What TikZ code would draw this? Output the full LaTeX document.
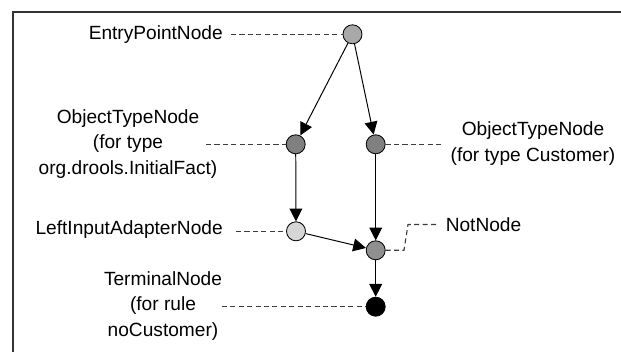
\documentclass[tikz,border=0pt]{standalone}
\usepackage{fontspec}
\setmainfont{Liberation Sans}
\usetikzlibrary{arrows.meta}
\definecolor{reteframe}{HTML}{333333}
\definecolor{reteleader}{HTML}{3C3C3C}
\definecolor{entrygray}{HTML}{A8A8A8}
\definecolor{typegray}{HTML}{808080}
\definecolor{adaptgray}{HTML}{D6D6D6}
\definecolor{notgray}{HTML}{8F8F8F}

\tikzset{
  retenode/.style={circle, draw=black, line width=0.6pt, minimum size=0.475cm, inner sep=0pt},
  flow/.style={-{Triangle[length=0.32cm, width=0.32cm]}, line width=0.7pt},
  leader/.style={reteleader, line width=0.8pt, dash pattern=on 3.6pt off 2.4pt},
  lbl/.style={font=\fontsize{13.6}{18.4}\selectfont, inner sep=0pt, align=center},
}

\begin{document}
\begin{tikzpicture}[x=0.025cm, y=-0.025cm]
  \useasboundingbox (0,0) rectangle (621,352);
  \draw[reteframe, line width=0.9pt] (621,12) -- (13,12) -- (13,352);

  % rete nodes
  \node[retenode, fill=entrygray] (entry)   at (352.5,34.3)  {};
  \node[retenode, fill=typegray]  (otleft)  at (295.7,144.3) {};
  \node[retenode, fill=typegray]  (otright) at (375.7,144.3) {};
  \node[retenode, fill=adaptgray] (lia)     at (296,231.3)   {};
  \node[retenode, fill=notgray]   (notn)    at (375.7,250.3) {};
  \node[retenode, fill=black]     (term)    at (375.7,306.7) {};

  % labels
  \node[lbl, anchor=east] (entrylbl)   at (223,34.3)  {EntryPointNode};
  \node[lbl]              (otleftlbl)  at (128,144)   {ObjectTypeNode\\(for type\\org.drools.InitialFact)};
  \node[lbl]              (otrightlbl) at (533,143.5) {ObjectTypeNode\\(for type Customer)};
  \node[lbl, anchor=east] (lialbl)     at (223,230)   {LeftInputAdapterNode};
  \node[lbl, anchor=west] (notlbl)     at (445.5,224.5) {NotNode};
  \node[lbl]              (termlbl)    at (163,306)   {TerminalNode\\(for rule\\noCustomer)};

  % leader ends
  \coordinate (entryend)   at (231,34.3);
  \coordinate (otleftend)  at (206,144.3);
  \coordinate (otrightend) at (443.6,144.3);
  \coordinate (liaend)     at (236,231.3);
  \coordinate (notend)     at (437,224.5);
  \coordinate (termend)    at (221.8,306.7);

  \draw[leader] (entryend) -- (entry.west);
  \draw[leader] (otleftend) -- (otleft.west);
  \draw[leader] (otright.east) -- (otrightend);
  \draw[leader] (liaend) -- (lia.west);
  \draw[leader] (notn.east) -- (404,250.3) -- (408,224.5) -- (notend);
  \draw[leader] (termend) -- (term.west);

  % flow of facts
  \draw[flow] (entry) -- (otleft);
  \draw[flow] (entry) -- (otright);
  \draw[flow] (otleft) -- (lia);
  \draw[flow] (otright) -- (notn);
  \draw[flow] (lia) -- (notn);
  \draw[flow] (notn) -- (term);
\end{tikzpicture}
\end{document}
